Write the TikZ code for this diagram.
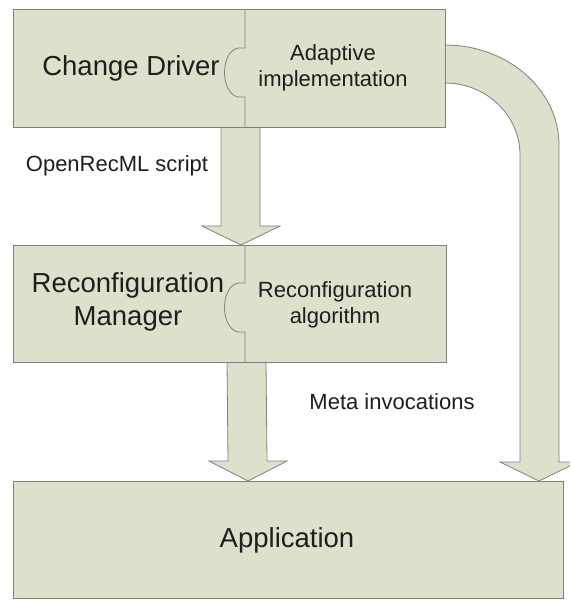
\documentclass[tikz,border=0pt]{standalone}
\usepackage{fontspec}
\setmainfont{Liberation Sans}
\definecolor{boxfill}{RGB}{221,224,203}
\definecolor{boxline}{RGB}{128,128,128}
\definecolor{txt}{RGB}{30,30,30}
\begin{document}
\begin{tikzpicture}[x=1pt,y=-1pt,
  block/.style={draw=boxline, fill=boxfill, line width=0.8pt, rectangle, inner sep=0pt},
  fatarrow/.style={draw=boxline, fill=boxfill, line width=0.8pt, line join=miter},
  seam/.style={draw=boxline, line width=0.8pt},
  bigtxt/.style={inner sep=0pt, text=txt, align=center, font=\fontsize{27.5}{33}\selectfont},
  smalltxt/.style={inner sep=0pt, text=txt, align=center, font=\fontsize{22}{26.5}\selectfont}]
\useasboundingbox (0,0) rectangle (570,601);
\clip (0,0) rectangle (570,601);
\fill[white] (0,0) rectangle (570,601);

% block arrows
\draw[fatarrow] (221,127) -- (221,226) -- (202,226) -- (241,245) -- (280,226)
  -- (260,226) -- (260,127) -- cycle;
\draw[fatarrow] (227,362) -- (228,461) -- (209,461) -- (248,481) -- (287,461)
  -- (267,461) -- (266,362) -- cycle;
\draw[fatarrow] (445,45) .. controls (508,45) and (559,90) .. (559,145)
  -- (559,462) -- (578,462) -- (539,481) -- (500,462) -- (520,462) -- (520,155)
  .. controls (520,115) and (486,83) .. (445,83) -- cycle;

% boxes
\node[block, minimum width=432pt, minimum height=118pt] (driver) at (229,68) {};
\node[block, minimum width=433pt, minimum height=117pt] (manager) at (229.5,303.5) {};
\node[block, minimum width=550pt, minimum height=117pt] (app) at (288,539.5) {};

% puzzle seams between the two halves of the upper boxes
\draw[seam] (245,9) -- (245,48) -- (238,48) .. controls (220,52) and (220,93) .. (238,97)
  -- (245,97) -- (245,127);
\draw[seam] (245,245) -- (245,283) -- (238,283) .. controls (220,287) and (220,328) .. (238,332)
  -- (245,332) -- (245,362);

% labels
\node[bigtxt] (cdtxt) at (131,68) {Change Driver};
\node[smalltxt] (adtxt) at (333,68) {Adaptive\\implementation};
\node[bigtxt] (rmtxt) at (128,302) {Reconfiguration\\Manager};
\node[smalltxt] (ratxt) at (335,305) {Reconfiguration\\algorithm};
\node[bigtxt] (apptxt) at (287,540) {Application};
\node[smalltxt] (ortxt) at (117,166) {OpenRecML script};
\node[smalltxt] (mitxt) at (392,402) {Meta invocations};
\end{tikzpicture}
\end{document}
